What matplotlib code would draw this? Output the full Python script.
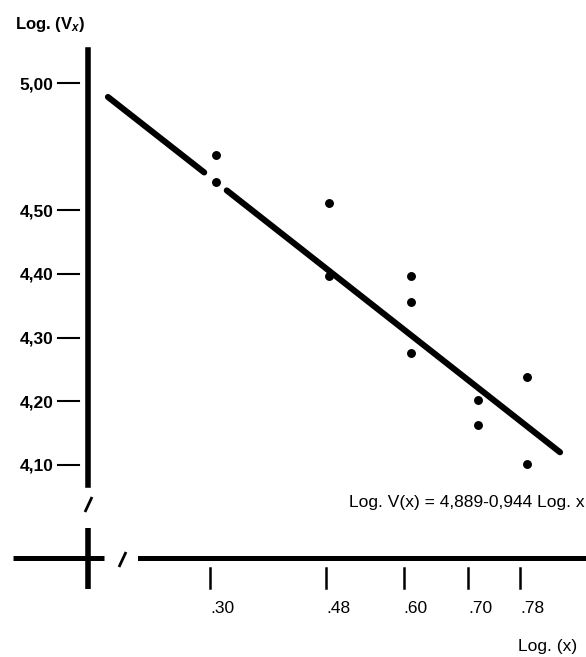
import numpy as np
import matplotlib
matplotlib.use('Agg')
import matplotlib.pyplot as plt
from matplotlib import font_manager
from matplotlib.lines import Line2D
from matplotlib.transforms import blended_transform_factory

# ---- data ----
x_ticks = [0.30, 0.48, 0.60, 0.70, 0.78]
x_tick_labels = ['.30', '.48', '.60', '.70', '.78']
y_ticks = [4.10, 4.20, 4.30, 4.40, 4.50, 5.00]
y_tick_labels = ['4,10', '4,20', '4,30', '4,40', '4,50', '5,00']
point_x = [0.309, 0.309, 0.484, 0.484, 0.611, 0.611, 0.611, 0.715, 0.715, 0.791, 0.791]
point_y = [4.717, 4.610, 4.528, 4.396, 4.396, 4.356, 4.276, 4.202, 4.163, 4.238, 4.102]
fit_x = [0.142, 0.291, np.nan, 0.326, 0.842]
fit_y = [4.945, 4.648, np.nan, 4.577, 4.120]
equation = 'Log. V(x) = 4,889-0,944 Log. x'

# ---- fonts ----
names = {f.name for f in font_manager.fontManager.ttflist}
FAM = 'Liberation Sans Narrow' if 'Liberation Sans Narrow' in names else 'Liberation Sans'
plt.rcParams['font.family'] = [FAM, 'DejaVu Sans']
plt.rcParams['mathtext.fontset'] = 'custom'
plt.rcParams['mathtext.rm'] = FAM
plt.rcParams['mathtext.it'] = FAM + ':italic:bold'

W, H = 586, 657
fig = plt.figure(figsize=(W / 100, H / 100), dpi=100)

def fx(px):
    return px / W

def fy(py):
    return 1 - py / H

ax_l, ax_r, ax_t, ax_b = 88, 586, 50, 558
ax = fig.add_axes([fx(ax_l), fy(ax_b), (ax_r - ax_l) / W, (ax_b - ax_t) / H])

# broken (compressed) y scale above 4.50
K = 254 / 637.5

def fwd(v):
    v = np.asarray(v, dtype=float)
    return np.where(v >= 4.5, 4.5 + (v - 4.5) * K, v)

def inv(u):
    u = np.asarray(u, dtype=float)
    return np.where(u >= 4.5, 4.5 + (u - 4.5) / K, u)

ax.set_yscale('function', functions=(fwd, inv))
ax.set_xlim(0.1111, 0.8822)
ax.set_ylim(3.9541, 5.130)

# regression line and points
ax.plot(fit_x, fit_y, color='black', lw=4.4, solid_capstyle='round')
ax.plot(point_x, point_y, 'o', color='black', ms=5.4, ls='none')

# spines
for s in ['top', 'right']:
    ax.spines[s].set_visible(False)
ax.spines['left'].set_linewidth(4.0)
ax.spines['left'].set_bounds(4.0686, 5.130)
ax.spines['bottom'].set_linewidth(3.6)
ax.spines['bottom'].set_bounds(0.1916, 0.8822)

# ticks
ax.set_yticks(y_ticks, y_tick_labels)
ax.set_xticks(x_ticks, x_tick_labels)
ax.minorticks_off()
ax.tick_params(axis='y', length=0, pad=25, labelsize=12.5)
ax.tick_params(axis='x', length=0, pad=31, labelsize=12.5)
for t in ax.get_yticklabels():
    t.set_fontweight('bold')
for t in ax.get_xticklabels():
    t.set_horizontalalignment('left')

ty = blended_transform_factory(ax.transAxes, ax.transData)
for v in y_ticks:
    ax.plot([-0.0602, -0.0181], [v, v], transform=ty, clip_on=False,
            color='black', lw=1.5)
tx = blended_transform_factory(ax.transData, ax.transAxes)
for v in x_ticks:
    ax.plot([v, v], [-0.0197, -0.0591], transform=tx, clip_on=False,
            color='black', lw=1.8)

# axis break decorations
def fig_line(p0, p1, lw):
    fig.add_artist(Line2D([fx(p0[0]), fx(p1[0])], [fy(p0[1]), fy(p1[1])],
                          transform=fig.transFigure, color='black', lw=lw,
                          solid_capstyle='butt'))

fig_line((88, 528), (88, 589), 4.0)
fig_line((13, 558), (104, 558), 3.6)
fig_line((92, 497), (85, 512), 2.0)
fig_line((126, 552), (119, 567), 2.0)

# texts
fig.text(fx(15), fy(24), r'Log. (V$_{x}$)', fontsize=12, fontweight='bold',
         ha='left', va='center')
fig.text(fx(585), fy(502), equation, fontsize=12.5, ha='right', va='center')
fig.text(fx(577), fy(646), 'Log. (x)', fontsize=12.5, ha='right', va='center')

fig.savefig('out.png', dpi=100)
